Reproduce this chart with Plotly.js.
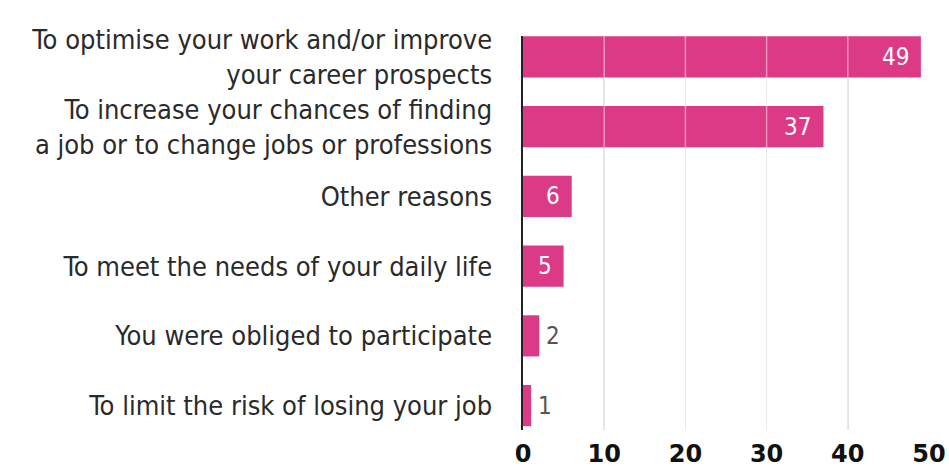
<!DOCTYPE html>
<html>
<head>
<meta charset="utf-8">
<script src="https://cdn.plot.ly/plotly-3.0.1.min.js"></script>
<style>
  html, body { margin: 0; padding: 0; background: #fff; }
  #chart { width: 949px; height: 471px; }
</style>
</head>
<body>
<div id="chart"></div>
<script>
// ---- data ----
const categories = [
  "To optimise your work and/or improve<br>your career prospects",
  "To increase your chances of finding<br>a job or to change jobs or professions",
  "Other reasons",
  "To meet the needs of your daily life",
  "You were obliged to participate",
  "To limit the risk of losing your job"
];
const values = [49, 37, 6, 5, 2, 1];
const tickValues = [0, 10, 20, 30, 40, 50];
const tickLabels = ["0", "10", "20", "30", "40", "50"];

// ---- style ----
const barColor = "#dc3a87";
const condensed = "'Liberation Sans Narrow', 'DejaVu Sans Condensed', 'Arial Narrow', sans-serif";

const trace = {
  type: "bar",
  orientation: "h",
  x: values,
  y: categories,
  marker: { color: barColor },
  width: 0.59,
  hoverinfo: "none"
};

const annotations = values.map((v, i) => {
  const inside = v >= 5;
  return {
    x: v, y: categories[i], xref: "x", yref: "y",
    text: String(v), showarrow: false,
    xanchor: inside ? "right" : "left",
    xshift: inside ? -10 : 5,
    font: { family: condensed, size: 24, color: inside ? "#ffffff" : "#555555" }
  };
});

const gridOverlay = tickValues.slice(1).map(t => ({
  type: "line", xref: "x", yref: "paper",
  x0: t, x1: t, y0: 0, y1: 1, layer: "above",
  line: { color: "rgba(255,255,255,0.45)", width: 1.5 }
}));

const layout = {
  width: 949, height: 471,
  margin: { l: 523, r: 20, t: 36, b: 41 },
  paper_bgcolor: "#ffffff",
  plot_bgcolor: "#ffffff",
  showlegend: false,
  bargap: 0.4,
  xaxis: {
    range: [0, 50],
    tickvals: tickValues,
    ticktext: tickLabels,
    showgrid: true,
    gridcolor: "#d9d9d9",
    gridwidth: 1.5,
    zeroline: false,
    showline: false,
    ticks: "outside", ticklen: 2, tickcolor: "rgba(0,0,0,0)",
    tickfont: { family: "'DejaVu Sans', sans-serif", size: 24, color: "#111111", weight: "bold" }
  },
  yaxis: {
    type: "category",
    range: [5.35, -0.3],
    showgrid: false,
    zeroline: false,
    showline: true,
    linecolor: "#222222",
    linewidth: 2.5,
    ticks: "outside", ticklen: 23, tickcolor: "rgba(0,0,0,0)",
    tickfont: { family: condensed, size: 27, color: "#2a2a2a" }
  },
  annotations: annotations,
  shapes: gridOverlay
};

Plotly.newPlot("chart", [trace], layout, { displayModeBar: false, staticPlot: true });
</script>
</body>
</html>
